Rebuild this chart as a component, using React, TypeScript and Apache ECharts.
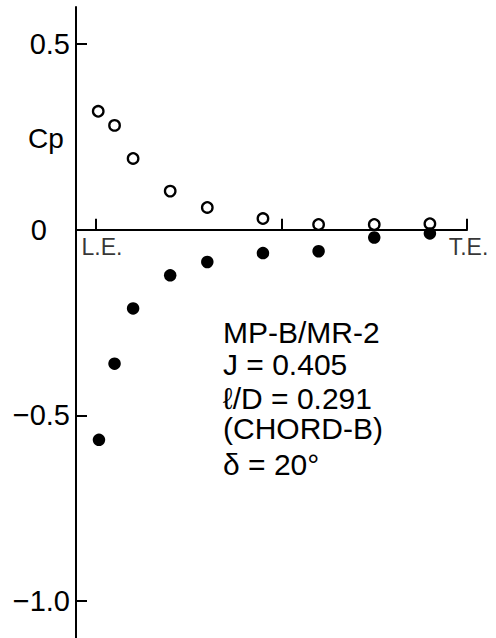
import React, { useEffect, useRef } from "react";
import * as echarts from "echarts";

// chord position x/c (0 = L.E., 1 = T.E.)
const openX = [0.006, 0.05, 0.1, 0.2, 0.3, 0.45, 0.6, 0.75, 0.9];
const openCp = [0.319, 0.281, 0.192, 0.104, 0.06, 0.03, 0.014, 0.014, 0.016];
const filledX = [0.008, 0.05, 0.1, 0.2, 0.3, 0.45, 0.6, 0.75, 0.9];
const filledCp = [-0.566, -0.361, -0.212, -0.123, -0.087, -0.063, -0.058, -0.021, -0.01];
const yTicks = [-1.0, -0.5, 0, 0.5];
const yTickLabels = ["−1.0", "−0.5", "0", "0.5"];
const xTicks = [0, 0.5, 1];
const chordEndX = [0, 1];
const chordEndLabels = ["L.E.", "T.E."];
const annotation = ["MP-B/MR-2", "J = 0.405", "ℓ/D = 0.291", "(CHORD-B)", "δ = 20°"];

const FONT = "'Liberation Sans', Arial, Helvetica, sans-serif";
const INK = "#000";

export default function App() {
  const ref = useRef<HTMLDivElement>(null);
  useEffect(() => {
    if (!ref.current) return;
    const chart = echarts.init(ref.current, null, { renderer: "svg" });
    const annoTops = [332, 364, 398, 428.5, 464];
    const txt = { fontFamily: FONT, fontSize: 23, color: INK, textBorderWidth: 0 };
    chart.setOption({
      animation: false,
      backgroundColor: "#fff",
      grid: {
        left: 76,
        right: 29,
        top: 7,
        bottom: 0,
        containLabel: false,
        outerBoundsMode: "none",
      },
      xAxis: {
        type: "value",
        min: -0.0539,
        max: 1.0,
        splitLine: { show: false },
        axisLine: { show: true, onZero: true, lineStyle: { color: INK, width: 2 } },
        axisTick: {
          show: true,
          inside: true,
          length: 11,
          customValues: xTicks,
          lineStyle: { color: INK, width: 2 },
        },
        axisLabel: { show: false },
      },
      yAxis: {
        type: "value",
        min: -1.1,
        max: 0.6,
        splitLine: { show: false },
        axisLine: { show: true, onZero: false, lineStyle: { color: INK, width: 2 } },
        axisTick: {
          show: true,
          inside: true,
          length: 11,
          customValues: yTicks,
          lineStyle: { color: INK, width: 2 },
        },
        axisLabel: {
          show: true,
          customValues: yTicks,
          margin: 6,
          fontFamily: FONT,
          fontSize: 29,
          color: INK,
          formatter: (v: number) => {
            const i = yTicks.findIndex((t) => Math.abs(t - v) < 1e-9);
            const s = i >= 0 ? yTickLabels[i] : "";
            return v === 0 ? "{z|" + s + "}" : s;
          },
          rich: {
            z: { fontFamily: FONT, fontSize: 29, color: INK, padding: [0, 23, 0, 0] },
          },
        },
      },
      series: [
        {
          type: "scatter",
          name: "chord ends",
          silent: true,
          symbol: "circle",
          symbolSize: 12,
          itemStyle: { color: "rgba(255,255,255,0)" },
          data: chordEndX.map((x) => [x, 0]),
          label: {
            show: true,
            position: "bottom",
            distance: 0,
            ...txt,
            formatter: (p: any) =>
              p.dataIndex === 0
                ? "{le|" + chordEndLabels[0] + "}"
                : "{te|" + chordEndLabels[1] + "}",
            rich: {
              le: { ...txt, padding: [0, 0, 0, 12] },
              te: { ...txt, padding: [0, 0, 6, 3] },
            },
          },
          labelLayout: { hideOverlap: false },
          z: 4,
        },
        {
          type: "scatter",
          name: "upper",
          data: openX.map((x, i) => [x, openCp[i]]),
          symbol: "circle",
          symbolSize: 10.5,
          itemStyle: { color: "#fff", borderColor: INK, borderWidth: 2.3, opacity: 1 },
          z: 5,
        },
        {
          type: "scatter",
          name: "lower",
          data: filledX.map((x, i) => [x, filledCp[i]]),
          symbol: "circle",
          symbolSize: 12.5,
          itemStyle: { color: INK, opacity: 1 },
          z: 5,
        },
      ],
      graphic: [
        {
          type: "text",
          x: 28,
          y: 138,
          style: {
            text: "Cp",
            font: `28px ${FONT}`,
            fill: INK,
            textAlign: "left",
            textVerticalAlign: "middle",
          },
        },
        ...annotation.map((t, i) => ({
          type: "text",
          x: 223,
          y: annoTops[i],
          style: {
            text: t,
            font: `30px ${FONT}`,
            fill: INK,
            textAlign: "left",
            textVerticalAlign: "middle",
          },
        })),
      ],
    });
    return () => chart.dispose();
  }, []);
  return (
    <div
      ref={ref}
      style={{ position: "fixed", left: 0, top: 0, width: 496, height: 638, background: "#fff" }}
    />
  );
}
